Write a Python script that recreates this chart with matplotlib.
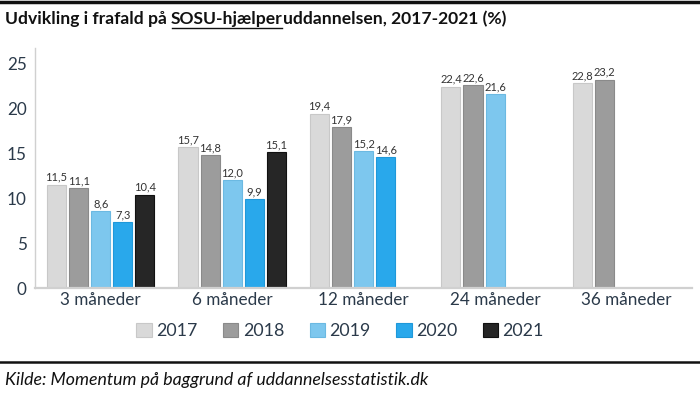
import matplotlib
matplotlib.use("Agg")
import matplotlib.pyplot as plt
from matplotlib.patches import Patch
import numpy as np

plt.rcParams["font.family"] = ["Lato", "DejaVu Sans"]

categories = ["3 måneder", "6 måneder", "12 måneder", "24 måneder", "36 måneder"]
years = ["2017", "2018", "2019", "2020", "2021"]
values = {
    "2017": [11.5, 15.7, 19.4, 22.4, 22.8],
    "2018": [11.1, 14.8, 17.9, 22.6, 23.2],
    "2019": [8.6, 12.0, 15.2, 21.6, None],
    "2020": [7.3, 9.9, 14.6, None, None],
    "2021": [10.4, 15.1, None, None, None],
}
colors = ["#d9d9d9", "#9c9c9c", "#7dc7ee", "#29a8eb", "#262626"]
edges = ["#c8c8c8", "#8a8a8a", "#6bb9e2", "#1f98d9", "#111111"]

TXT = "#2b3a4a"

fig = plt.figure(figsize=(7, 3.94), dpi=100)
ax = fig.add_axes([0.05, 0.269, 0.939, 0.609])

x = np.arange(len(categories))
slot = 0.168
bw = 0.145
for i, yr in enumerate(years):
    off = (i - 2) * slot
    for j, v in enumerate(values[yr]):
        if v is None:
            continue
        ax.bar(x[j] + off, v, width=bw, color=colors[i], edgecolor=edges[i], linewidth=0.8)
        ax.text(x[j] + off, v + 0.2, f"{v:.1f}".replace(".", ","), ha="center", va="bottom",
                fontsize=8, color="#333333")

ax.set_xlim(-0.5, 4.5)
ax.set_ylim(0, 26.7)
ax.set_yticks([0, 5, 10, 15, 20, 25])
ax.set_xticks(x)
ax.set_xticklabels(categories)
ax.tick_params(axis="both", length=0, labelsize=12.3, colors=TXT)
ax.tick_params(axis="y", pad=6)
ax.tick_params(axis="x", pad=3)
for s in ["top", "right"]:
    ax.spines[s].set_visible(False)
ax.spines["left"].set_color("#d0d0d0")
ax.spines["left"].set_linewidth(1.0)
ax.spines["bottom"].set_color("#d0d0d0")
ax.spines["bottom"].set_linewidth(1.6)

handles = [Patch(facecolor=c, edgecolor=e, linewidth=0.8) for c, e in zip(colors, edges)]
leg = fig.legend(handles, years, loc="center", bbox_to_anchor=(0.486, 0.16), ncol=5,
                 frameon=False, fontsize=12.8, handlelength=0.85, handleheight=0.85,
                 handletextpad=0.25, columnspacing=1.45)
for t in leg.get_texts():
    t.set_color(TXT)

# title with underlined part
fig.canvas.draw()
r = fig.canvas.get_renderer()
parts = ["Udvikling i frafald på ", "SOSU-hjælper", "uddannelsen, 2017-2021 (%)"]
xpos = 5 / 700
ty = 1 - 19 / 394
inv = fig.transFigure.inverted()
for k, p in enumerate(parts):
    t = fig.text(xpos, ty, p, fontsize=12.6, fontweight="bold", color="#111111",
                 va="center", ha="left")
    bb = t.get_window_extent(renderer=r)
    x0, y0 = inv.transform((bb.x0, bb.y0))
    x1, y1 = inv.transform((bb.x1, bb.y1))
    if k == 1:
        uy = 1 - 28 / 394
        fig.add_artist(plt.Line2D([x0 + 0.001, x1 - 0.001], [uy, uy], color="#111111",
                                  lw=1.0, transform=fig.transFigure))
    xpos = x1

fig.add_artist(plt.Line2D([0, 1], [1 - 1.5 / 394, 1 - 1.5 / 394], color="#111111", lw=2.5,
                          transform=fig.transFigure))
fig.add_artist(plt.Line2D([0, 1], [1 - 362 / 394, 1 - 362 / 394], color="#111111", lw=1.8,
                          transform=fig.transFigure))
fig.text(5 / 700, 1 - 380 / 394, "Kilde: Momentum på baggrund af uddannelsesstatistik.dk",
         fontsize=12.8, style="italic", color="#111111", va="center", ha="left")

fig.savefig("out.png", dpi=100)
